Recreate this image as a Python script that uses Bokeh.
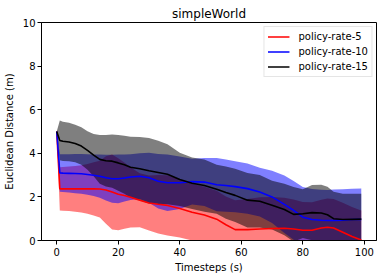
import numpy as np
from bokeh.plotting import figure
from bokeh.models import ColumnDataSource, Legend, LegendItem, Range1d, FixedTicker
from bokeh.embed import file_html
from bokeh.resources import INLINE

# ---- data ----
timesteps = [0, 1, 2, 4, 6, 8, 10, 12, 14, 16, 18, 20, 22, 24, 27, 30, 33, 36, 40, 44,
             48, 52, 55, 58, 62, 66, 70, 74, 77, 80, 83, 86, 88, 90, 93, 96, 99]

rate5_mean = [5.0, 2.37, 2.37, 2.37, 2.37, 2.37, 2.37, 2.37, 2.36, 2.32, 2.22, 2.12, 2.06, 1.98,
              1.85, 1.72, 1.66, 1.61, 1.47, 1.30, 1.17, 0.98, 0.72, 0.50, 0.50, 0.53, 0.55, 0.56,
              0.53, 0.47, 0.47, 0.57, 0.61, 0.57, 0.38, 0.18, 0.02]
rate5_std = [0.0, 0.99, 1.00, 1.02, 1.05, 1.08, 1.14, 1.22, 1.30, 1.55, 1.72, 1.65, 1.52, 1.38,
             1.24, 1.26, 1.34, 1.38, 1.33, 1.30, 1.30, 1.30, 1.30, 1.35, 1.40, 1.45, 1.45, 1.40,
             1.35, 1.30, 1.28, 1.30, 1.32, 1.33, 1.35, 1.36, 1.36]

rate10_mean = [5.0, 3.10, 3.09, 3.08, 3.07, 3.06, 3.03, 2.99, 2.95, 2.88, 2.83, 2.83, 2.87, 2.91,
               2.95, 2.88, 2.72, 2.65, 2.65, 2.70, 2.68, 2.56, 2.52, 2.47, 2.38, 2.22, 2.00, 1.66,
               1.38, 1.07, 0.96, 0.93, 0.92, 0.92, 0.93, 0.96, 0.97]
rate10_std = [0.0, 0.86, 0.87, 0.88, 0.90, 0.91, 0.93, 0.95, 0.99, 1.05, 1.10, 1.12, 1.08, 1.05,
              1.05, 1.15, 1.25, 1.30, 1.20, 1.05, 1.10, 1.22, 1.20, 1.17, 1.15, 1.12, 1.20, 1.32,
              1.35, 1.38, 1.40, 1.40, 1.40, 1.42, 1.42, 1.41, 1.41]

rate15_mean = [5.0, 4.59, 4.55, 4.52, 4.45, 4.33, 4.13, 3.92, 3.72, 3.66, 3.64, 3.56, 3.47, 3.36,
               3.29, 3.20, 3.12, 3.04, 2.80, 2.63, 2.52, 2.35, 2.20, 2.07, 1.85, 1.80, 1.62, 1.42,
               1.20, 1.23, 1.28, 1.26, 1.18, 1.00, 0.96, 0.97, 0.98]
rate15_std = [0.0, 0.91, 0.90, 0.88, 0.86, 0.86, 0.88, 0.97, 1.12, 1.18, 1.22, 1.28, 1.33, 1.40,
              1.46, 1.50, 1.45, 1.38, 1.22, 1.18, 1.20, 1.12, 1.20, 1.22, 1.25, 1.20, 1.12, 1.18,
              1.25, 1.12, 1.27, 1.30, 1.28, 1.24, 1.18, 1.17, 1.16]

series_labels = ["policy-rate-5", "policy-rate-10", "policy-rate-15"]
series_colors = ["#ff0000", "#0000ff", "#000000"]
x_ticks = [0, 20, 40, 60, 80, 100]
y_ticks = [0, 2, 4, 6, 8, 10]

FONT = "DejaVu Sans"

p = figure(width=386, height=278, output_backend="svg", toolbar_location=None,
           x_range=Range1d(-4.95, 103.95), y_range=Range1d(0, 10),
           title="simpleWorld",
           min_border_left=41, min_border_right=10, min_border_top=22, min_border_bottom=38)

p.background_fill_color = "white"
p.border_fill_color = "white"
p.outline_line_color = "black"
p.outline_line_width = 1
p.outline_line_alpha = 1
p.xgrid.grid_line_color = None
p.ygrid.grid_line_color = None

p.title.align = "center"
p.title.text_font = FONT
p.title.text_font_size = "12px"
p.title.text_font_style = "normal"
p.title.text_color = "black"
p.title.standoff = 3

means = [rate5_mean, rate10_mean, rate15_mean]
stds = [rate5_std, rate10_std, rate15_std]
t = np.array(timesteps, dtype=float)

sources = []
for m, s in zip(means, stds):
    m = np.array(m)
    s = np.array(s)
    sources.append(ColumnDataSource(dict(t=t, mean=m, lo=m - s, hi=m + s)))

for src, col in zip(sources, series_colors):
    p.varea(x="t", y1="lo", y2="hi", source=src, fill_color=col, fill_alpha=0.5)

line_renderers = []
for src, col in zip(sources, series_colors):
    r = p.line(x="t", y="mean", source=src, line_color=col, line_width=1.6)
    line_renderers.append(r)

legend = Legend(items=[LegendItem(label=lab, renderers=[r])
                       for lab, r in zip(series_labels, line_renderers)],
                location="top_right")
legend.label_text_font = FONT
legend.label_text_font_size = "10px"
legend.label_text_color = "black"
legend.glyph_width = 22
legend.glyph_height = 13
legend.label_height = 13
legend.spacing = 2
legend.padding = 3
legend.label_standoff = 9
legend.margin = 4
legend.border_line_color = "#cccccc"
legend.border_line_width = 1
legend.background_fill_color = "white"
legend.background_fill_alpha = 0.8
p.add_layout(legend)

p.xaxis.ticker = FixedTicker(ticks=x_ticks)
p.yaxis.ticker = FixedTicker(ticks=y_ticks)
p.xaxis.axis_label = "Timesteps (s)"
p.yaxis.axis_label = "Euclidean Distance (m)"

for ax in (p.xaxis, p.yaxis):
    ax.axis_line_color = "black"
    ax.axis_line_width = 1
    ax.major_tick_line_color = "black"
    ax.major_tick_out = 4
    ax.major_tick_in = 0
    ax.minor_tick_out = 0
    ax.minor_tick_in = 0
    ax.major_label_text_font = FONT
    ax.major_label_text_font_size = "10px"
    ax.major_label_text_color = "black"
    ax.axis_label_text_font = FONT
    ax.axis_label_text_font_size = "10px"
    ax.axis_label_text_font_style = "normal"
    ax.axis_label_text_color = "black"

p.xaxis.major_label_standoff = 3
p.xaxis.axis_label_standoff = 3
p.yaxis.major_label_standoff = 2
p.yaxis.axis_label_standoff = 5

open("out.html", "w").write(file_html(p, INLINE))
